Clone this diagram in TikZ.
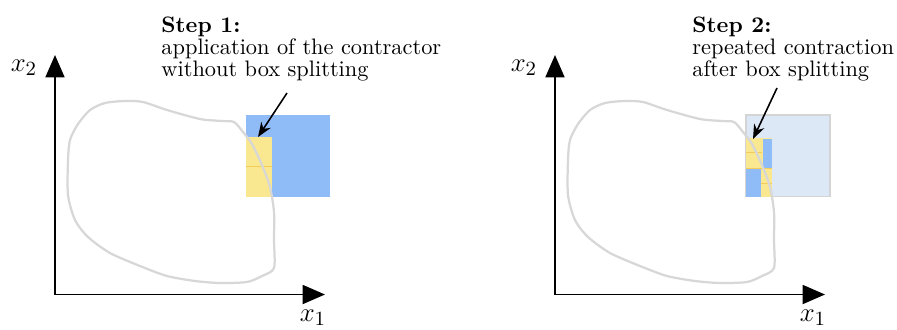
\documentclass[tikz,border=0pt]{standalone}
\usepackage{amsmath,amssymb}
\usepackage{xcolor}
\usepackage{tikz}
\usetikzlibrary{arrows.meta, positioning}

\definecolor{boxblue}{RGB}{143,187,247}
\definecolor{boxpale}{RGB}{221,232,247}
\definecolor{boxframe}{RGB}{212,212,212}
\definecolor{boxyellow}{RGB}{249,232,143}
\definecolor{cutline}{RGB}{243,204,90}
\definecolor{blobgray}{RGB}{215,215,215}

\begin{document}
\begin{tikzpicture}[
  x={(0.447pt,0)}, y={(0,-0.447pt)},
  axis/.style={-{Triangle[length=10pt, width=8.5pt]}, line width=0.8pt},
  note/.style={font=\fontsize{10}{10}\selectfont, align=left,
               anchor=north west, inner sep=0pt},
  pointer/.style={-{Stealth[length=6.5pt, width=5pt]}, line width=0.7pt},
  blob/.style={draw=blobgray, line width=1pt},
  removed/.style={fill=boxblue},
  kept/.style={fill=boxyellow},
  cut/.style={draw=cutline, line width=0.6pt},
]
\useasboundingbox (0,0) rectangle (897,329);

% Step 1 boxes
\fill[removed] (246,115) rectangle (330,196.7);
\fill[kept]    (246,137.3) rectangle (271.7,196.7);
\draw[cut]     (246,166.7) -- (271.7,166.7);

% Step 2 boxes
\filldraw[fill=boxpale, draw=boxframe, line width=0.6pt] (746,115) rectangle (830,196.7);
\fill[kept]    (746,138.3) rectangle (772,196.7);
\fill[removed] (762.7,139.3) rectangle (771.7,167.7);
\fill[removed] (746,169) rectangle (761,196.7);
\draw[cut]     (746,152.7) -- (761.7,152.7);
\draw[cut]     (746,168.3) -- (772,168.3);
\draw[cut]     (761,183.3) -- (772,183.3);

% axes and set, same in both panels
\foreach \p/\sx in {a/0, b/500} {
  \begin{scope}[shift={(\sx,0)}]
    \coordinate (o\p)     at (55,294.5);
    \coordinate (top\p)   at (55,55);
    \coordinate (right\p) at (325,294.5);
    \draw[axis] (o\p) -- (top\p);
    \draw[axis] (o\p) -- (right\p);
    \node[font=\fontsize{13}{15}\selectfont] (x2\p) at (24,68)  {$x_2$};
    \node[font=\fontsize{13}{15}\selectfont] (x1\p) at (313,318) {$x_1$};
    \draw[blob] plot[smooth cycle, tension=0.45] coordinates {
      (68,160) (70,140) (78,124) (90,110) (105,103) (125,101) (143,102)
      (167,110) (200,119) (222,121) (234,122) (243,132) (252,144)
      (262,165) (270,187) (274,212) (274,240) (274,268) (262,276)
      (247,282) (220,283) (195,281) (167,276) (140,266) (110,253)
      (88,237) (75,220) (68,195)};
  \end{scope}
}

% Notes
\node[note] (step1) at (161,16)
  {\textbf{Step 1:}\\ application of the contractor\\ without box splitting};
\node[note] (step2) at (692,16)
  {\textbf{Step 2:}\\ repeated contraction\\ after box splitting};

\coordinate (p1s) at (287,93);
\coordinate (p1e) at (258,137);
\coordinate (p2s) at (777,88);
\coordinate (p2e) at (753,139);
\draw[pointer] (p1s) -- (p1e);
\draw[pointer] (p2s) -- (p2e);

\end{tikzpicture}
\end{document}
